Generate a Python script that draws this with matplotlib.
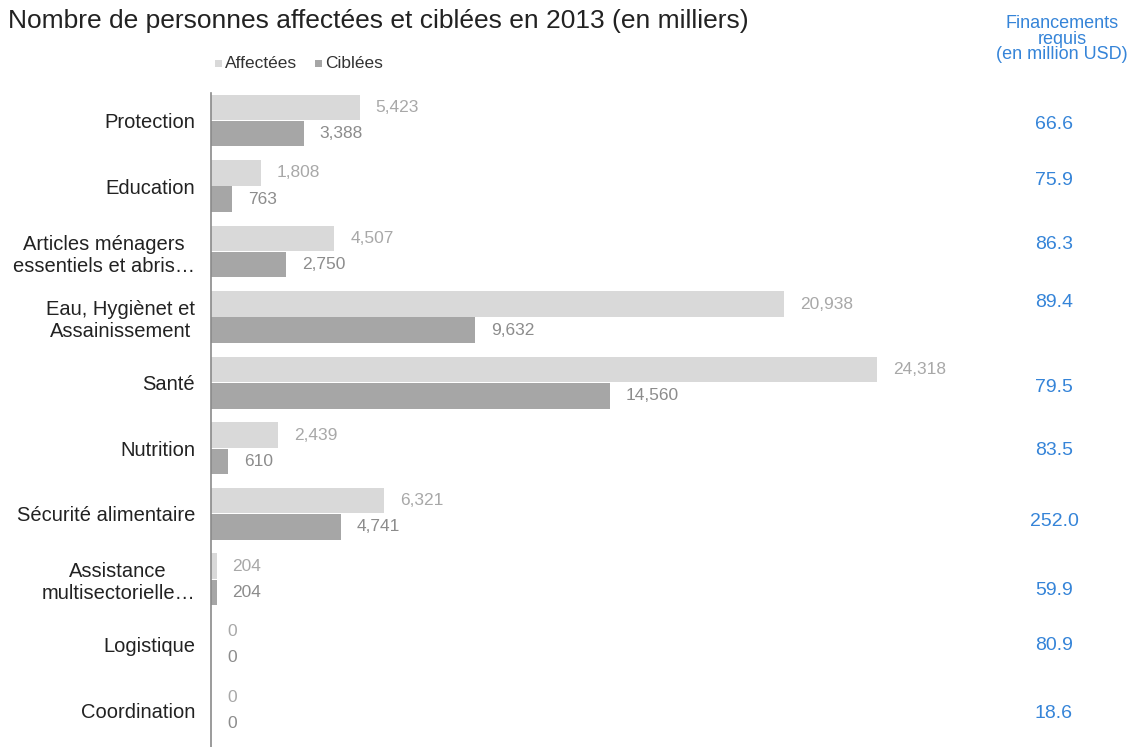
import matplotlib
matplotlib.use("Agg")
import matplotlib.pyplot as plt
import matplotlib.transforms as mtransforms
from matplotlib.patches import Rectangle
import numpy as np

plt.rcParams['font.family'] = ['Liberation Sans', 'DejaVu Sans']

# ---- data ----
categories = ["Protection", "Education", "Articles ménagers\nessentiels et abris…",
              "Eau, Hygiènet et\nAssainissement", "Santé", "Nutrition",
              "Sécurité alimentaire", "Assistance\nmultisectorielle…",
              "Logistique", "Coordination"]
affectees = [5423, 1808, 4507, 20938, 24318, 2439, 6321, 204, 0, 0]
ciblees = [3388, 763, 2750, 9632, 14560, 610, 4741, 204, 0, 0]
financements = ["66.6", "75.9", "86.3", "89.4", "79.5", "83.5", "252.0", "59.9", "80.9", "18.6"]
series_names = ["Affectées", "Ciblées"]

# ---- layout / style ----
fund_offsets_px = [4, -6, -7, -15, 5, 2, 8, 11, 1, 3]
W, H = 1132, 747
DPI = 100
c_aff = "#d9d9d9"
c_cib = "#a6a6a6"
c_lab_aff = "#a8a8a8"
c_lab_cib = "#8c8c8c"
blue = "#3584d8"

fig = plt.figure(figsize=(W / DPI, H / DPI), dpi=DPI)
ax_left, ax_right, ax_top, ax_bot = 211, 1000, 93, 747
ax = fig.add_axes([ax_left / W, 1 - ax_bot / H, (ax_right - ax_left) / W, (ax_bot - ax_top) / H])

px_per_unit = (877 - 211) / 24318.0
ax.set_xlim(0, (ax_right - ax_left) / px_per_unit)
ax.set_ylim(9.56, -0.42)

y = np.arange(len(categories))
bh = 0.39
ax.barh(y - 0.2, affectees, height=bh, color=c_aff, edgecolor='none')
ax.barh(y + 0.2, ciblees, height=bh, color=c_cib, edgecolor='none')

off = mtransforms.offset_copy(ax.transData, fig=fig, x=16, y=0, units='dots')
for i in range(len(categories)):
    ax.text(affectees[i], y[i] - 0.2, f"{affectees[i]:,}", transform=off,
            ha='left', va='center', fontsize=12.5, color=c_lab_aff)
    ax.text(ciblees[i], y[i] + 0.2, f"{ciblees[i]:,}", transform=off,
            ha='left', va='center', fontsize=12.5, color=c_lab_cib)

ax.set_yticks(y)
ax.set_yticklabels(categories, fontsize=14.5, color="#222222", multialignment='center')
ax.tick_params(axis='y', length=0, pad=11.5)
ax.set_xticks([])
for s in ['top', 'right', 'bottom']:
    ax.spines[s].set_visible(False)
ax.spines['left'].set_color('#8a8a8a')
ax.spines['left'].set_linewidth(1.2)

# funding column
for i, f in enumerate(financements):
    tr = mtransforms.offset_copy(mtransforms.blended_transform_factory(fig.transFigure, ax.transData),
                                 fig=fig, x=0, y=-fund_offsets_px[i], units='dots')
    fig.text(1054 / W, y[i], f, transform=tr, ha='center', va='center', fontsize=14, color=blue)

fig.text(1062 / W, 1 - 39 / H, "Financements\nrequis\n(en million USD)", ha='center', va='center',
         fontsize=13, color=blue, linespacing=0.88)

# title
fig.text(8 / W, 1 - 21 / H, "Nombre de personnes affectées et ciblées en 2013 (en milliers)",
         ha='left', va='center', fontsize=19, color="#222222")

# legend
for xs, col, name in [(215, c_aff, series_names[0]), (315, c_cib, series_names[1])]:
    fig.add_artist(Rectangle((xs / W, 1 - 67 / H), 7 / W, 7 / H, transform=fig.transFigure,
                             facecolor=col, edgecolor='none'))
    fig.text((xs + 10) / W, 1 - 63 / H, name, ha='left', va='center', fontsize=12.5, color="#333333")

fig.savefig("out.png", dpi=DPI)
